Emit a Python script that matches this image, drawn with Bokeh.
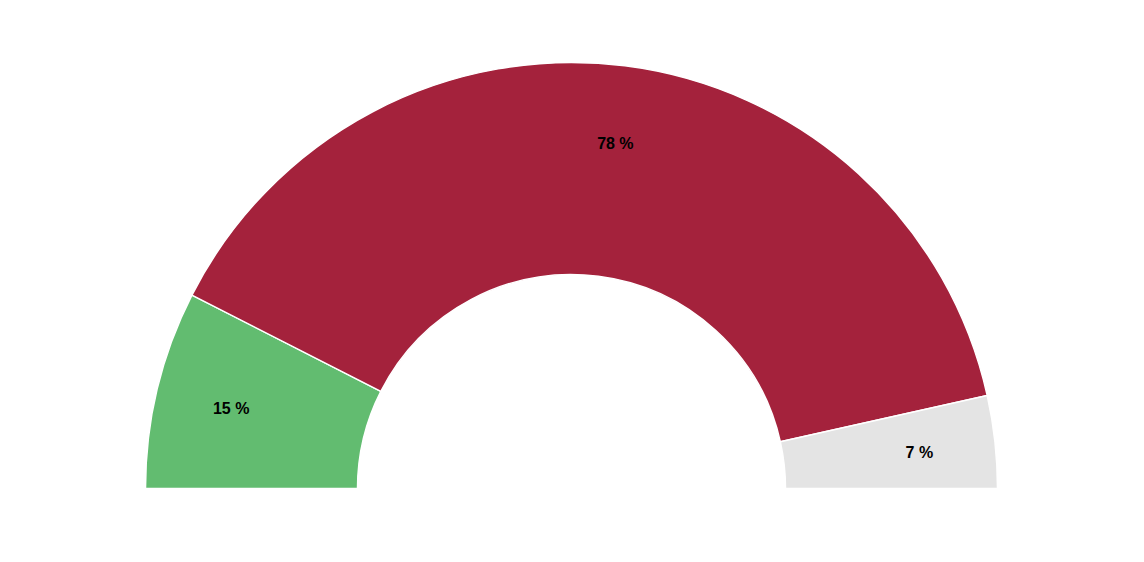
import math
from bokeh.plotting import figure
from bokeh.models import ColumnDataSource
from bokeh.core.properties import value
from bokeh.embed import file_html
from bokeh.resources import INLINE

categories = ["A", "B", "C"]
values = [15, 78, 7]
labels = ["15 %", "78 %", "7 %"]
colors = ["#62bc70", "#a4223c", "#e4e4e4"]

W, H = 1128, 546
cx, cy = 571, 58
r_in, r_out = 214, 426
r_lab = 350

total = sum(values)
starts, ends, lx, ly = [], [], [], []
acc = 0.0
for v in values:
    a0 = math.pi - math.pi * acc / total
    acc += v
    a1 = math.pi - math.pi * acc / total
    starts.append(a1)
    ends.append(a0)
    mid = (a0 + a1) / 2
    lx.append(cx + r_lab * math.cos(mid))
    ly.append(cy + r_lab * math.sin(mid))

src = ColumnDataSource(dict(cat=categories, start=starts, end=ends, color=colors,
                            lx=lx, ly=ly, label=labels,
                            x=[cx] * 3, y=[cy] * 3))

p = figure(width=W, height=H, x_range=(0, W), y_range=(0, H),
           output_backend="svg", toolbar_location=None, min_border=0,
           outline_line_color=None)
p.axis.visible = False
p.grid.visible = False
p.background_fill_color = "white"

p.annular_wedge(x="x", y="y", inner_radius=r_in, outer_radius=r_out,
                start_angle="start", end_angle="end", color="color",
                line_color="white", line_width=1.5, source=src,
                inner_radius_units="screen", outer_radius_units="screen")

p.text(x="lx", y="ly", text="label", source=src, text_align="center",
       text_baseline="middle", text_font=value("Liberation Sans"),
       text_font_style="bold", text_font_size="16px", text_color="black",
       y_offset=2)

open("out.html", "w").write(file_html(p, INLINE))
